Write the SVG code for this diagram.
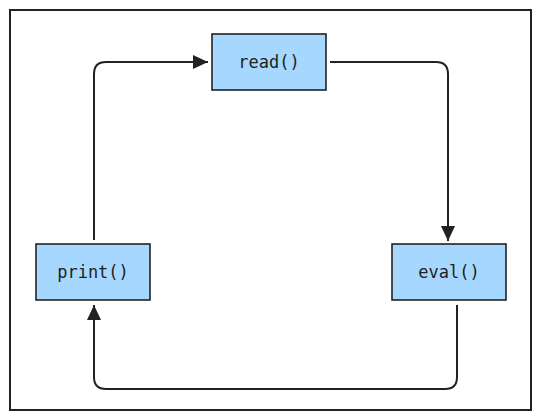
<svg xmlns="http://www.w3.org/2000/svg" width="541" height="420" viewBox="0 0 541 420">
  <style>
    .box { fill: #a6d8ff; stroke: #222; stroke-width: 1.6; }
    .label { font-family: "DejaVu Sans Mono", "Liberation Mono", monospace; font-size: 17px; fill: #222; text-anchor: middle; dominant-baseline: central; }
    .edge { fill: none; stroke: #222; stroke-width: 2; }
  </style>
  <defs>
    <marker id="arrow" viewBox="0 0 15 14" refX="15" refY="7" markerWidth="15" markerHeight="14" markerUnits="userSpaceOnUse" orient="auto">
      <path d="M0,0 L15,7 L0,14 Z" fill="#222"/>
    </marker>
  </defs>
  <rect x="10" y="10" width="521" height="400" fill="#fff" stroke="#222" stroke-width="2"/>

  <g id="connectors">
    <path class="edge" d="M330,62 H436 Q448,62 448,74 V241" marker-end="url(#arrow)"/>
    <path class="edge" d="M457,305 V377 Q457,389 445,389 H106 Q94,389 94,377 V305" marker-end="url(#arrow)"/>
    <path class="edge" d="M94,240 V74 Q94,62 106,62 H208" marker-end="url(#arrow)"/>
  </g>

  <g id="read">
    <rect class="box" x="212" y="34" width="114" height="56"/>
    <text class="label" x="269" y="62">read()</text>
  </g>
  <g id="eval">
    <rect class="box" x="392" y="244" width="114" height="56"/>
    <text class="label" x="449" y="272">eval()</text>
  </g>
  <g id="print">
    <rect class="box" x="36" y="244" width="114" height="56"/>
    <text class="label" x="93" y="272">print()</text>
  </g>
</svg>
